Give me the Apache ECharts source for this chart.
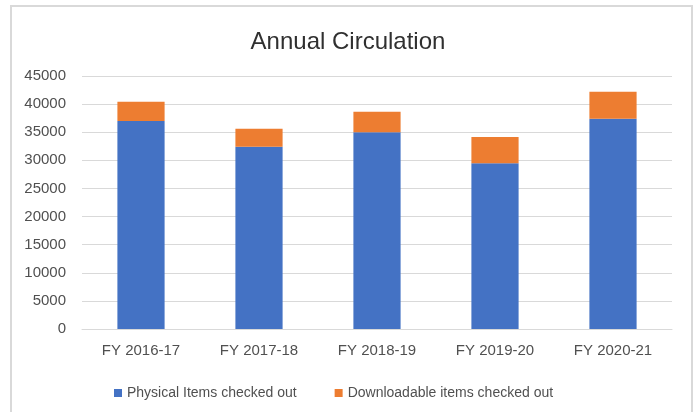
<!DOCTYPE html>
<html>
<head>
<meta charset="utf-8">
<script src="https://cdn.jsdelivr.net/npm/echarts@6/dist/echarts.min.js"></script>
<style>
html,body{margin:0;padding:0;background:#fff;}
#chart{width:696px;height:412px;}
</style>
</head>
<body>
<div id="chart"></div>
<script>
const categories = ["FY 2016-17", "FY 2017-18", "FY 2018-19", "FY 2019-20", "FY 2020-21"];
const physicalItems = [37000, 32400, 35000, 29500, 37400];
const downloadableItems = [3400, 3200, 3650, 4650, 4800];
const seriesNames = ["Physical Items checked out", "Downloadable items checked out"];
const yTicks = { min: 0, max: 45000, interval: 5000 };

const font = "'Liberation Sans', Arial, sans-serif";
const txt = '#505050';
const chart = echarts.init(document.getElementById('chart'), null, { renderer: 'canvas' });
chart.setOption({
  animation: false,
  backgroundColor: '#fff',
  title: {
    text: 'Annual Circulation',
    left: 'center',
    top: 25,
    textStyle: { fontFamily: font, fontSize: 24, fontWeight: 'normal', color: '#303030' }
  },
  graphic: [{
    type: 'rect',
    shape: { x: 11, y: 6, width: 681, height: 430 },
    style: { fill: 'none', stroke: '#D9D9D9', lineWidth: 2 },
    silent: true
  }],
  legend: {
    left: 109,
    top: 381,
    itemWidth: 8,
    itemHeight: 8,
    itemGap: 38,
    icon: 'rect',
    textStyle: { fontFamily: font, fontSize: 14, color: txt }
  },
  grid: { left: 82, right: 24, top: 76, bottom: 83, containLabel: false },
  xAxis: {
    type: 'category',
    data: categories,
    axisLine: { lineStyle: { color: '#D9D9D9', width: 1 } },
    axisTick: { show: false },
    axisLabel: { fontFamily: font, fontSize: 15, color: txt, margin: 14 }
  },
  yAxis: {
    type: 'value',
    min: yTicks.min,
    max: yTicks.max,
    interval: yTicks.interval,
    axisLine: { show: false },
    axisTick: { show: false },
    axisLabel: { fontFamily: font, fontSize: 15, color: txt, margin: 16, formatter: v => String(v) },
    splitLine: { lineStyle: { color: '#D9D9D9', width: 1 } }
  },
  series: [
    { name: seriesNames[0], type: 'bar', stack: 'total', data: physicalItems, barWidth: '40%',
      itemStyle: { color: '#4472C4' } },
    { name: seriesNames[1], type: 'bar', stack: 'total', data: downloadableItems, barWidth: '40%',
      itemStyle: { color: '#ED7D31' } }
  ]
});
</script>
</body>
</html>
